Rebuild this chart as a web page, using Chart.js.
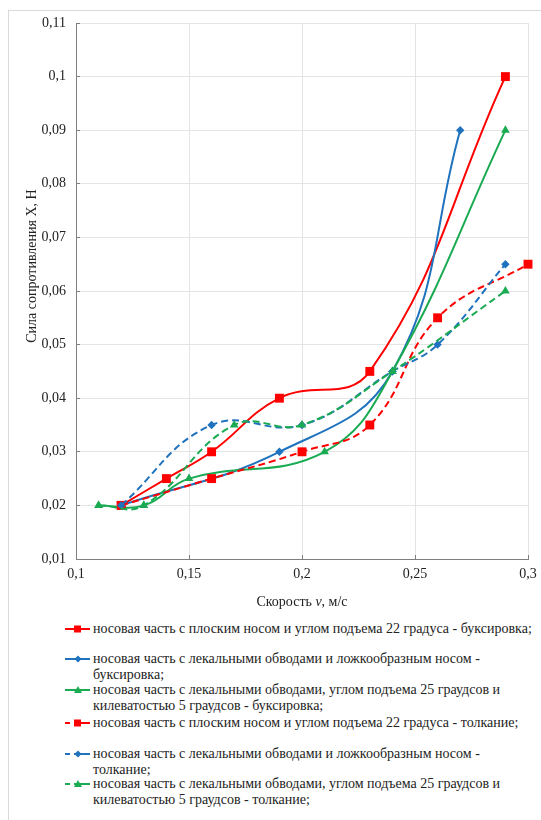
<!DOCTYPE html>
<html>
<head>
<meta charset="utf-8">
<script src="https://cdn.jsdelivr.net/npm/chart.js@4"></script>
<style>
  html, body { margin: 0; padding: 0; background: #fff; }
  body { width: 541px; height: 820px; position: relative; overflow: hidden; font-family: "Liberation Serif", "DejaVu Serif", serif; }
  #frame { position: absolute; left: 8px; top: 10px; width: 560px; height: 840px; border: 1px solid #d9d9d9; box-sizing: border-box; pointer-events: none; }
  #wrap { position: absolute; left: 0; top: 0; width: 541px; height: 615px; }
  #legend { position: absolute; left: 0; top: 0; width: 541px; }
  .item { position: absolute; left: 60px; width: 480px; }
  .item svg { position: absolute; left: 0; top: 0; }
  .item .txt { position: absolute; left: 33px; top: 0; font-size: 14px; line-height: 16px; color: #222; white-space: pre; }
</style>
</head>
<body>
<div id="wrap"><canvas id="c"></canvas></div>
<div id="legend"></div>
<div id="frame"></div>
<script>
// ---- data ----
const seriesLabels = [
  'носовая часть с плоским носом и углом подъема 22 градуса - буксировка;',
  'носовая часть с лекальными обводами и ложкообразным носом -\nбуксировка;',
  'носовая часть с лекальными обводами, углом подъема 25 граудсов и\nкилеватостью 5 граудсов - буксировка;',
  'носовая часть с плоским носом и углом подъема 22 градуса - толкание;',
  'носовая часть с лекальными обводами и ложкообразным носом -\nтолкание;',
  'носовая часть с лекальными обводами, углом подъема 25 граудсов и\nкилеватостью 5 граудсов - толкание;'
];
const redTowX   = [0.12, 0.14, 0.16, 0.19, 0.23, 0.29];
const redTowY   = [0.02, 0.025, 0.03, 0.04, 0.045, 0.1];
const blueTowX  = [0.12, 0.19, 0.24, 0.27];
const blueTowY  = [0.02, 0.03, 0.045, 0.09];
const greenTowX = [0.11, 0.13, 0.15, 0.21, 0.24, 0.29];
const greenTowY = [0.02, 0.02, 0.025, 0.03, 0.045, 0.09];
const redPushX   = [0.12, 0.16, 0.2, 0.23, 0.26, 0.3];
const redPushY   = [0.02, 0.025, 0.03, 0.035, 0.055, 0.065];
const bluePushX  = [0.12, 0.16, 0.2, 0.24, 0.26, 0.29];
const bluePushY  = [0.02, 0.035, 0.035, 0.045, 0.05, 0.065];
const greenPushX = [0.11, 0.13, 0.17, 0.2, 0.24, 0.29];
const greenPushY = [0.02, 0.02, 0.035, 0.035, 0.045, 0.06];

const xTickValues = [0.1, 0.15, 0.2, 0.25, 0.3];
const xTickLabels = ['0,1', '0,15', '0,2', '0,25', '0,3'];
const yTickValues = [0.01, 0.02, 0.03, 0.04, 0.05, 0.06, 0.07, 0.08, 0.09, 0.1, 0.11];
const yTickLabels = ['0,01', '0,02', '0,03', '0,04', '0,05', '0,06', '0,07', '0,08', '0,09', '0,1', '0,11'];
const xTitleParts = ['Скорость ', 'v', ', м/с'];
const yTitle = 'Сила сопротивления X, Н';

// ---- styles ----
const RED = '#ff0000', BLUE = '#1f72be', GREEN = '#1aab52';
const colors = [RED, BLUE, GREEN, RED, BLUE, GREEN];
const shapes = ['rect', 'rectRot', 'triangle', 'rect', 'rectRot', 'triangle'];
const radii = [6.3, 4.2, 5, 6.3, 4.2, 5];
const dashed = [false, false, false, true, true, true];
const xs = [redTowX, blueTowX, greenTowX, redPushX, bluePushX, greenPushX];
const ys = [redTowY, blueTowY, greenTowY, redPushY, bluePushY, greenPushY];

const datasets = xs.map((xa, i) => ({
  label: seriesLabels[i],
  data: xa.map((x, j) => ({ x: x, y: ys[i][j] })),
  borderColor: colors[i],
  backgroundColor: colors[i],
  pointBackgroundColor: colors[i],
  pointBorderColor: colors[i],
  pointStyle: shapes[i],
  pointRadius: radii[i],
  pointBorderWidth: 0,
  borderWidth: 2,
  borderDash: dashed[i] ? [7, 4] : [],
  tension: 0.42,
  fill: false,
  order: 6 - i,
  clip: false
}));

const FONT = '"Liberation Serif", "DejaVu Serif", serif';

const titlesPlugin = {
  id: 'axisTitles',
  afterDraw(chart) {
    const ctx = chart.ctx;
    const area = chart.chartArea;
    ctx.save();
    ctx.fillStyle = '#222';
    ctx.textBaseline = 'middle';
    const normal = '14px ' + FONT;
    const ital = 'italic 14px ' + FONT;
    ctx.font = normal;
    const w0 = ctx.measureText(xTitleParts[0]).width;
    const w2 = ctx.measureText(xTitleParts[2]).width;
    ctx.font = ital;
    const w1 = ctx.measureText(xTitleParts[1]).width;
    const total = w0 + w1 + w2;
    let x = (area.left + area.right) / 2 - total / 2;
    const y = 602;
    ctx.textAlign = 'left';
    ctx.font = normal; ctx.fillText(xTitleParts[0], x, y); x += w0;
    ctx.font = ital; ctx.fillText(xTitleParts[1], x, y); x += w1;
    ctx.font = normal; ctx.fillText(xTitleParts[2], x, y);
    ctx.translate(32, 266);
    ctx.rotate(-Math.PI / 2);
    ctx.textAlign = 'center';
    ctx.font = normal;
    ctx.fillText(yTitle, 0, 0);
    ctx.restore();
  }
};

new Chart(document.getElementById('c'), {
  type: 'line',
  data: { datasets },
  options: {
    responsive: true,
    maintainAspectRatio: false,
    animation: false,
    events: [],
    layout: { padding: { left: 0, right: 13, top: 23, bottom: 0 } },
    plugins: { legend: { display: false }, tooltip: { enabled: false }, title: { display: false } },
    scales: {
      x: {
        type: 'linear',
        min: 0.1, max: 0.3,
        afterBuildTicks: (s) => { s.ticks = xTickValues.map(v => ({ value: v })); },
        afterFit: (s) => { s.height = 56; s.paddingRight = 0; s.paddingLeft = 0; },
        ticks: {
          color: '#222',
          font: { family: FONT, size: 14 },
          padding: 11,
          maxRotation: 0,
          autoSkip: false,
          callback: (v, i) => xTickLabels[i]
        },
        grid: { color: '#e4e4e4', tickColor: '#7f7f7f', tickLength: -4, lineWidth: 1 },
        border: { color: '#7f7f7f', width: 1 }
      },
      y: {
        type: 'linear',
        min: 0.01, max: 0.11,
        afterBuildTicks: (s) => { s.ticks = yTickValues.map(v => ({ value: v })); },
        afterFit: (s) => { s.width = 76; },
        ticks: {
          color: '#222',
          font: { family: FONT, size: 14 },
          padding: 14,
          autoSkip: false,
          callback: (v, i) => yTickLabels[i]
        },
        grid: { color: '#e4e4e4', tickColor: '#7f7f7f', tickLength: -4, lineWidth: 1 },
        border: { color: '#7f7f7f', width: 1 }
      }
    }
  },
  plugins: [titlesPlugin]
});

// ---- legend (HTML, built from the dataset labels) ----
const legendTops = [621, 651, 682, 715, 746, 776];
const legend = document.getElementById('legend');
seriesLabels.forEach((lab, i) => {
  const item = document.createElement('div');
  item.className = 'item';
  item.style.top = legendTops[i] + 'px';
  const c = colors[i];
  let line = dashed[i]
    ? `<line x1="5" y1="8" x2="10" y2="8" stroke="${c}" stroke-width="2"/><line x1="14" y1="8" x2="30" y2="8" stroke="${c}" stroke-width="2"/>`
    : `<line x1="5" y1="8" x2="30" y2="8" stroke="${c}" stroke-width="2"/>`;
  let mk;
  if (shapes[i] === 'rect') mk = `<rect x="14" y="4.5" width="7" height="7" fill="${c}"/>`;
  else if (shapes[i] === 'rectRot') mk = `<polygon points="18,4.5 21.5,8 18,11.5 14.5,8" fill="${c}"/>`;
  else mk = `<polygon points="18,4 22,11 14,11" fill="${c}"/>`;
  item.innerHTML = `<svg width="32" height="16">${line}${mk}</svg><div class="txt">${lab}</div>`;
  legend.appendChild(item);
});
</script>
</body>
</html>
